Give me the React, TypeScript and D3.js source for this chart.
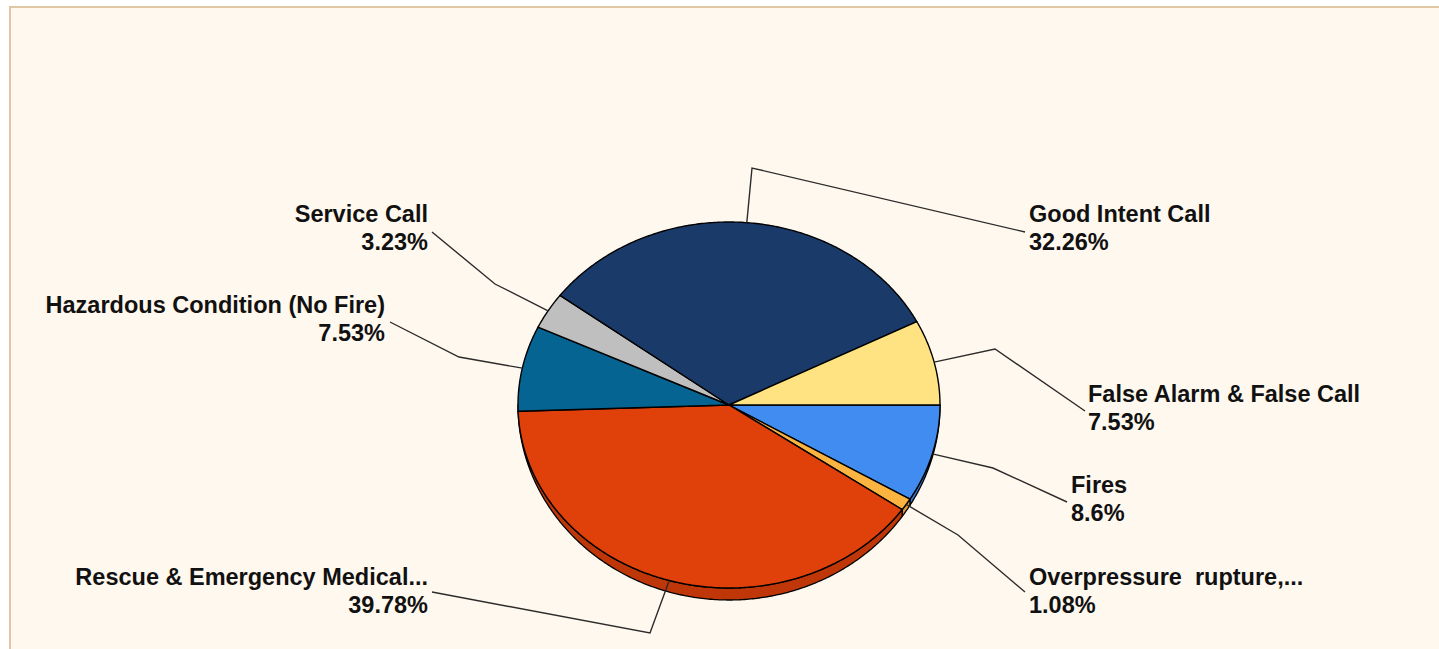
import React from "react";
import * as d3 from "d3";

// ---- data ----
const categories = [
  "Fires",
  "Overpressure  rupture,...",
  "Rescue & Emergency Medical...",
  "Hazardous Condition (No Fire)",
  "Service Call",
  "Good Intent Call",
  "False Alarm & False Call",
];
const counts = [8, 1, 37, 7, 3, 30, 7];
const colors = ["#418CF0", "#FCB441", "#E0400A", "#056492", "#BFBFBF", "#1A3B69", "#FFE382"];

// ---- layout (label placement) ----
const labelLayout = [
  { elbow: [993, 468], end: [1067, 502], x: 1071, y: 493, anchor: "start" },
  { elbow: [958, 535], end: [1025, 592], x: 1029, y: 585, anchor: "start" },
  { elbow: [650, 633], end: [432, 592], x: 428, y: 585, anchor: "end" },
  { elbow: [459, 357], end: [390, 322], x: 385, y: 313, anchor: "end" },
  { elbow: [495, 284], end: [432, 232], x: 428, y: 222, anchor: "end" },
  { elbow: [752, 168], end: [1025, 232], x: 1029, y: 222, anchor: "start" },
  { elbow: [995, 349], end: [1085, 411], x: 1088, y: 402, anchor: "start" },
];

const W = 1439;
const H = 649;
const cx = 729;
const cy = 405;
const rx = 211;
const ry = 183;
const depth = 12;

export default function App() {
  const total = d3.sum(counts);
  const pie = d3
    .pie<number>()
    .sort(null)
    .startAngle(Math.PI / 2)
    .endAngle(Math.PI / 2 + 2 * Math.PI)
    .value((d) => d);
  const arcs = pie(counts);

  const pt = (t: number, extra = 0): [number, number] => [
    cx + rx * Math.cos(t),
    cy + (ry + extra) * Math.sin(t),
  ];
  const line = d3.line<[number, number]>();

  const sample = (t0: number, t1: number, extra = 0) => {
    const n = Math.max(2, Math.ceil(Math.abs(t1 - t0) / 0.01));
    const pts: [number, number][] = [];
    for (let i = 0; i <= n; i++) pts.push(pt(t0 + ((t1 - t0) * i) / n, extra));
    return pts;
  };

  const slices = arcs.map((a, i) => {
    const t0 = a.startAngle - Math.PI / 2;
    const t1 = a.endAngle - Math.PI / 2;
    const top = line([[cx, cy], ...sample(t0, t1)]) + "Z";
    let side: string | null = null;
    const s0 = Math.max(t0, 0);
    const s1 = Math.min(t1, Math.PI);
    if (s1 > s0) {
      const upper = sample(s0, s1);
      const lower = sample(s1, s0, depth);
      side = line([...upper, ...lower]) + "Z";
    }
    const mid = (t0 + t1) / 2;
    return { top, side, mid, color: colors[i], i };
  });

  const pctText = (c: number) => `${+((c / total) * 100).toFixed(2)}%`;

  const font = "'Liberation Sans', Arial, sans-serif";

  return (
    <svg
      width={W}
      height={H}
      style={{ position: "absolute", left: 0, top: 0, display: "block" }}
    >
      <rect x={0} y={0} width={W} height={H} fill="#ffffff" />
      <rect
        x={10}
        y={7}
        width={W + 20}
        height={H + 20}
        fill="#fff8ee"
        stroke="#dfc7a6"
        strokeWidth={2}
      />
      {slices.map(
        (s) =>
          s.side && (
            <path
              key={"side" + s.i}
              d={s.side}
              fill={d3.color(s.color)!.darker(0.45).formatHex()}
              stroke="#000"
              strokeWidth={1.3}
              strokeLinejoin="round"
            />
          )
      )}
      {slices.map((s) => (
        <path
          key={"top" + s.i}
          d={s.top}
          fill={s.color}
          stroke="#000"
          strokeWidth={1.4}
          strokeLinejoin="round"
        />
      ))}
      {slices.map((s) => {
        const L = labelLayout[s.i];
        const start = pt(s.mid);
        return (
          <polyline
            key={"ln" + s.i}
            points={[start, L.elbow, L.end].map((p) => p.join(",")).join(" ")}
            fill="none"
            stroke="#2b2b2b"
            strokeWidth={1.4}
          />
        );
      })}
      {slices.map((s) => {
        const L = labelLayout[s.i];
        return (
          <text
            key={"tx" + s.i}
            x={L.x}
            y={L.y}
            textAnchor={L.anchor as any}
            fontFamily={font}
            fontWeight="bold"
            fontSize={23.5}
            fill="#111"
            style={{ whiteSpace: "pre" }}
          >
            <tspan x={L.x} y={L.y}>
              {categories[s.i]}
            </tspan>
            <tspan x={L.x} y={L.y + 28}>
              {pctText(counts[s.i])}
            </tspan>
          </text>
        );
      })}
    </svg>
  );
}
